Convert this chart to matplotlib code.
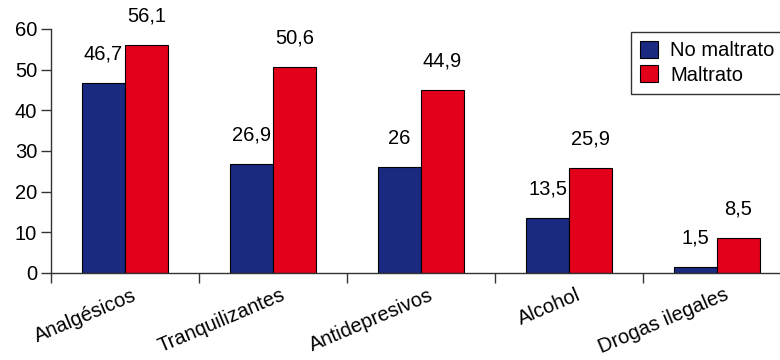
import numpy as np
import matplotlib
matplotlib.use("Agg")
import matplotlib.pyplot as plt
import matplotlib.transforms as mtransforms

categories = ["Analgésicos", "Tranquilizantes", "Antidepresivos", "Alcohol", "Drogas ilegales"]
no_maltrato = [46.7, 26.9, 26.0, 13.5, 1.5]
maltrato = [56.1, 50.6, 44.9, 25.9, 8.5]
series_names = ["No maltrato", "Maltrato"]

plt.rcParams['font.family'] = ['Liberation Sans', 'DejaVu Sans']
FS = 14.5

fig = plt.figure(figsize=(7.8, 3.6), dpi=100)
ax = fig.add_axes([51 / 780, 87 / 360, 740 / 780, 244 / 360])

x = np.arange(len(categories))
w = 0.29
b1 = ax.bar(x - w / 2, no_maltrato, w, color="#1a2a80", edgecolor="black", linewidth=0.8, label=series_names[0])
b2 = ax.bar(x + w / 2, maltrato, w, color="#e2001a", edgecolor="black", linewidth=0.8, label=series_names[1])

def fmt(v):
    s = ("%.1f" % v).rstrip("0").rstrip(".")
    return s.replace(".", ",")

for bars, vals in ((b1, no_maltrato), (b2, maltrato)):
    for r, v in zip(bars, vals):
        ax.annotate(fmt(v), (r.get_x() + r.get_width() / 2, r.get_height()),
                    xytext=(0, 14), textcoords="offset points",
                    ha="center", va="bottom", fontsize=FS)

ax.set_xlim(-0.5, len(categories) - 0.5)
ax.set_ylim(0, 60)
ax.set_yticks(range(0, 61, 10))
ax.tick_params(axis="y", length=7, width=1, pad=3, labelsize=FS, color="#333333")

ax.set_xticks(x)
ax.set_xticklabels(categories, rotation=23, ha="right", rotation_mode="anchor", fontsize=FS)
ax.tick_params(axis="x", which="major", length=0, pad=9)
shift = mtransforms.ScaledTranslation(7 / 100, 0, fig.dpi_scale_trans)
for lbl in ax.get_xticklabels():
    lbl.set_transform(lbl.get_transform() + shift)
ax.set_xticks(np.arange(-0.5, len(categories), 1), minor=True)
ax.tick_params(axis="x", which="minor", length=7, width=1, color="#333333")

for s in ("top", "right"):
    ax.spines[s].set_visible(False)
for s in ("left", "bottom"):
    ax.spines[s].set_color("#333333")
    ax.spines[s].set_linewidth(1)

leg = ax.legend(loc="upper left", bbox_to_anchor=(631 / 780, 1 - 32 / 360),
                bbox_transform=fig.transFigure, fontsize=FS, frameon=True,
                fancybox=False, handlelength=0.9, handleheight=0.9,
                handletextpad=0.6, labelspacing=0.25, borderpad=0.45,
                borderaxespad=0)
leg.get_frame().set_edgecolor("black")
leg.get_frame().set_linewidth(1)

fig.savefig("out.png", dpi=100)
